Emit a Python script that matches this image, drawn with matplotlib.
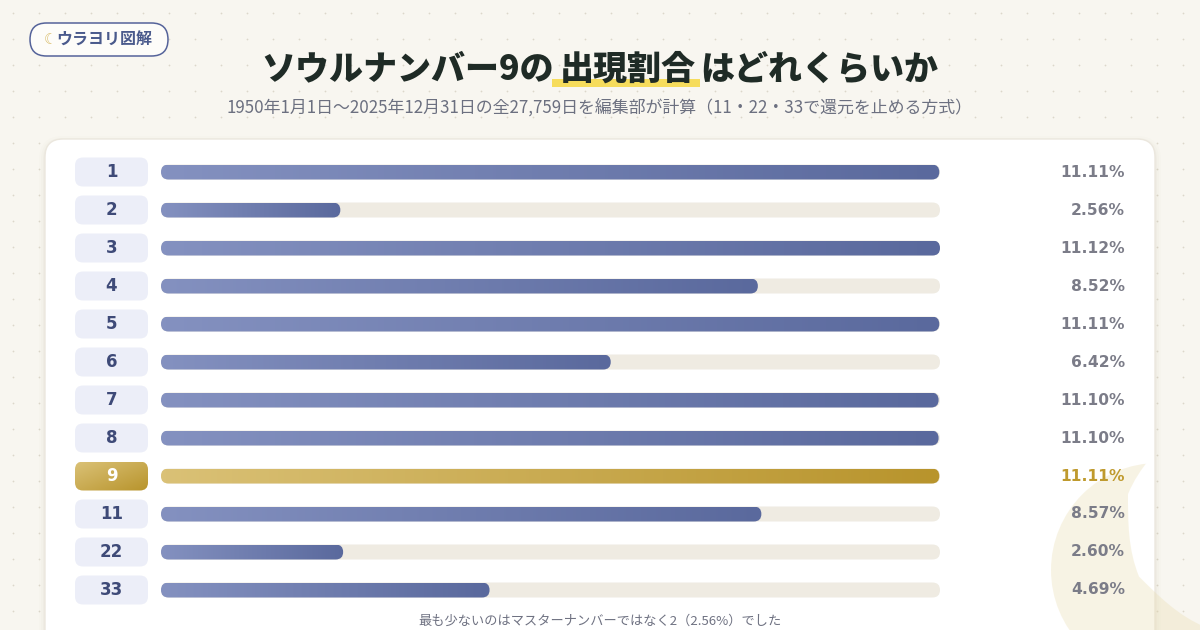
"""Soul number 9 share chart (horizontal progress bars)."""

import numpy as np
import matplotlib
matplotlib.use("Agg")
import matplotlib.pyplot as plt
from matplotlib.patches import FancyBboxPatch, Rectangle, Circle, PathPatch
from matplotlib.colors import LinearSegmentedColormap
from matplotlib.path import Path
import matplotlib.transforms as mtransforms

plt.rcParams["font.family"] = ["Noto Sans CJK JP", "DejaVu Sans"]

# data
numbers = ["1", "2", "3", "4", "5", "6", "7", "8", "9", "11", "22", "33"]
shares = [11.11, 2.56, 11.12, 8.52, 11.11, 6.42, 11.10, 11.10, 11.11, 8.57, 2.60, 4.69]
share_labels = ["11.11%", "2.56%", "11.12%", "8.52%", "11.11%", "6.42%",
                "11.10%", "11.10%", "11.11%", "8.57%", "2.60%", "4.69%"]
highlight = "9"

title_parts = ["ソウルナンバー9の", "出現割合", "はどれくらいか"]
subtitle = "1950年1月1日〜2025年12月31日の全27,759日を編集部が計算（11・22・33で還元を止める方式）"
footnote = "最も少ないのはマスターナンバーではなく2（2.56%）でした"
badge_text = "ウラヨリ図解"

W, H = 1200, 630
BG = "#f8f6f0"
NAVY = "#3e4a78"
GREY = "#7b7c88"
GOLD = "#bf9a2e"
NUM_FONT = ["DejaVu Sans"]

fig = plt.figure(figsize=(W / 100, H / 100), dpi=100, facecolor=BG)


def px_axes(x0, y0, x1, y1, **kw):
    """Axes placed by pixel box (top-left origin)."""
    return fig.add_axes([x0 / W, 1 - y1 / H, (x1 - x0) / W, (y1 - y0) / H], **kw)


# ---- background layer (pixel coordinates) ----
bg = px_axes(0, 0, W, H, zorder=0)
bg.set_xlim(0, W)
bg.set_ylim(H, 0)
bg.axis("off")

gx, gy = np.meshgrid(np.arange(13, W, 26), np.arange(13, H, 26))
bg.scatter(gx.ravel(), gy.ravel(), s=1.6, color="#dcd7ca", lw=0, zorder=1)

# card with soft shadow
for grow, a in [(6, 0.015), (4, 0.025), (2, 0.035)]:
    bg.add_patch(FancyBboxPatch((45 - grow, 139 - grow + 3), 1110 + 2 * grow, 560,
                                boxstyle="round,pad=0,rounding_size=%d" % (18 + grow),
                                fc="#8a7f60", ec="none", alpha=a, zorder=2))
bg.add_patch(FancyBboxPatch((45, 139), 1110, 560, boxstyle="round,pad=0,rounding_size=18",
                            fc="white", ec="#ebe7de", lw=1, zorder=3))

# crescent decoration
moon = Circle((1158, 570), 107, fc="#e9dcae", ec="none", alpha=0.32, zorder=4)
bg.add_patch(moon)
hole = Path.circle((1233, 522), 105)
rect = Path([(900, 380), (1300, 380), (1300, 700), (900, 700), (900, 380)],
            [Path.MOVETO, Path.LINETO, Path.LINETO, Path.LINETO, Path.CLOSEPOLY])
hole_rev = Path(hole.vertices[::-1], hole.codes)
clip = PathPatch(Path.make_compound_path(rect, hole_rev), transform=bg.transData)
moon.set_clip_path(clip)

# badge
bg.add_patch(FancyBboxPatch((30, 23), 138, 33, boxstyle="round,pad=0,rounding_size=16.5",
                            fc="#fdfcf9", ec="#55639a", lw=1.1, zorder=5))
bg.text(50, 40, "☾", color="#d9bd6c", fontsize=10.5, ha="center", va="center",
        family=["DejaVu Sans"], zorder=6)
bg.text(56, 40, badge_text, color="#4a5a8c", fontsize=11.5, fontweight="bold",
        ha="left", va="center", zorder=6)

# title in three pieces so the middle one can carry the marker highlight
renderer = fig.canvas.get_renderer()
title_objs = [bg.text(0, 69, s, fontsize=24.5, fontweight="black", color="#1f2b26",
                      ha="left", va="center", zorder=6) for s in title_parts]
widths = [t.get_window_extent(renderer).width for t in title_objs]
gap = 5
x = W / 2 - (sum(widths) + gap * 2) / 2
for i, (t, w) in enumerate(zip(title_objs, widths)):
    t.set_x(x)
    if i == 1:
        bg.add_patch(Rectangle((x - 7, 79), w + 12, 8, fc="#f6dc5c", ec="none", zorder=5))
    x += w + gap

bg.text(W / 2, 107, subtitle, fontsize=12.2, color="#6c7080", ha="center", va="center", zorder=6)
bg.text(W / 2, 621, footnote, fontsize=9.5, color="#6f7282", ha="center", va="center", zorder=6)

# ---- bars ----
n = len(numbers)
row_top, row_step = 172, 38
ax = px_axes(161, row_top - row_step / 2, 940, row_top + row_step * (n - 0.5), zorder=2)
ax.patch.set_visible(False)
ax.axis("off")
vmax = max(shares)
ax.set_xlim(0, vmax)
ax.set_ylim(n - 0.5, -0.5)

xpp = vmax / 779.0          # data units per pixel, x
ypp = 1.0 / row_step        # data units per pixel, y
aspect = ypp / xpp
bar_h = 15 * ypp
radius = 7.5 * xpp

blue_cm = LinearSegmentedColormap.from_list("blue", ["#8491c0", "#5a699d"])
gold_cm = LinearSegmentedColormap.from_list("gold", ["#dac176", "#b8942c"])
grad = np.linspace(0, 1, 256).reshape(1, -1)

for i, (num, v) in enumerate(zip(numbers, shares)):
    track = FancyBboxPatch((0, i - bar_h / 2), vmax, bar_h,
                           boxstyle="round,pad=0,rounding_size=%f" % radius,
                           mutation_aspect=aspect, fc="#efebe2", ec="none", zorder=1)
    ax.add_patch(track)
    bar = FancyBboxPatch((0, i - bar_h / 2), v, bar_h,
                         boxstyle="round,pad=0,rounding_size=%f" % radius,
                         mutation_aspect=aspect, fc="none", ec="none", zorder=2)
    ax.add_patch(bar)
    cm = gold_cm if num == highlight else blue_cm
    im = ax.imshow(grad, cmap=cm, extent=[0, v, i + bar_h / 2, i - bar_h / 2],
                   aspect="auto", interpolation="bicubic", zorder=2)
    im.set_clip_path(bar)

ax.set_xlim(0, vmax)
ax.set_ylim(n - 0.5, -0.5)

# value labels on the right
val_tr = mtransforms.blended_transform_factory(fig.transFigure, ax.transData)
for i, (num, lab) in enumerate(zip(numbers, share_labels)):
    ax.text(1125 / W, i, lab, transform=val_tr, ha="right", va="center",
            fontsize=11.2, fontweight="bold", family=NUM_FONT,
            color=GOLD if num == highlight else GREY, clip_on=False)

# ---- number chips on the left ----
lab = px_axes(75, row_top - row_step / 2, 148, row_top + row_step * (n - 0.5), zorder=2)
lab.patch.set_visible(False)
lab.axis("off")
lab.set_xlim(0, 1)
lab.set_ylim(n - 0.5, -0.5)
lxpp = 1 / 73.0
chip_h = 29 * ypp
diag = np.add.outer(np.linspace(0, 1, 64), np.linspace(0, 1, 64)) / 2
for i, num in enumerate(numbers):
    is_hi = num == highlight
    chip = FancyBboxPatch((0, i - chip_h / 2), 1, chip_h,
                          boxstyle="round,pad=0,rounding_size=%f" % (8 * lxpp),
                          mutation_aspect=ypp / lxpp,
                          fc="none" if is_hi else "#eceef8", ec="none", zorder=1)
    lab.add_patch(chip)
    if is_hi:
        im = lab.imshow(diag, cmap=gold_cm, extent=[0, 1, i + chip_h / 2, i - chip_h / 2],
                        aspect="auto", interpolation="bicubic", zorder=1)
        im.set_clip_path(chip)
    lab.text(0.5, i, num, ha="center", va="center", fontsize=12, fontweight="bold",
             family=NUM_FONT, color="white" if is_hi else NAVY, zorder=3)
lab.set_xlim(0, 1)
lab.set_ylim(n - 0.5, -0.5)

fig.savefig("out.png", dpi=100, facecolor=BG)
plt.close(fig)
